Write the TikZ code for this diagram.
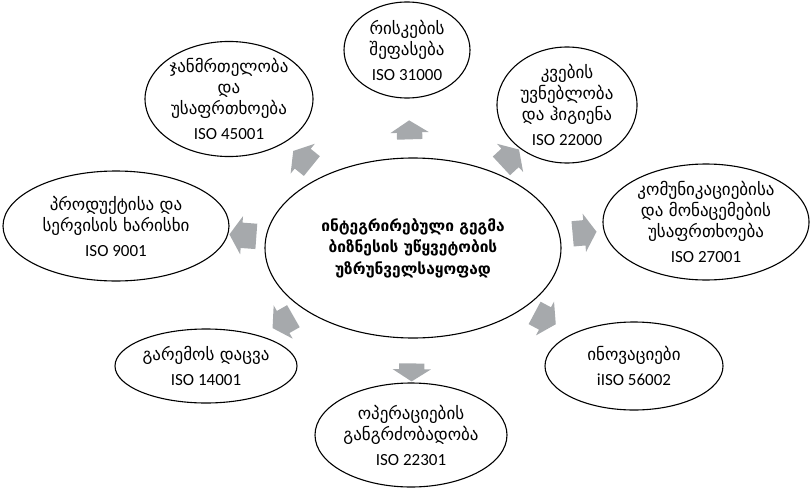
\documentclass[tikz,border=0pt]{standalone}
\usepackage{fontspec}
\setmainfont{Carlito}
\newfontfamily\geo{DejaVu Sans}
\usetikzlibrary{shapes.geometric,shapes.arrows}
\definecolor{arrowgray}{RGB}{166,169,172}

\begin{document}
\begin{tikzpicture}[x=1pt, y=1pt,
  goal/.style={ellipse, draw, line width=1.1pt, align=center, inner sep=0pt,
    font=\geo\fontsize{17}{21}\selectfont},
  push/.style={single arrow, fill=arrowgray, draw=none, inner xsep=0pt,
    inner ysep=12.5pt, single arrow head extend=6.5pt, single arrow tip angle=115,
    minimum height=#1, sloped, allow upside down},
  push/.default=24pt]

\useasboundingbox (0,0) rectangle (810,491);

% Center
\node[goal, minimum width=296pt, minimum height=180pt,
  font=\geo\bfseries\fontsize{15.5}{21.5}\selectfont] (plan) at (413,243)
  {ინტეგრირებული გეგმა\\ბიზნესის უწყვეტობის\\უზრუნველსაყოფად};

% Risk
\node[goal, minimum width=126pt, minimum height=96pt] (risk) at (407,441)
  {რისკების\\შეფასება\\[4pt]\rmfamily ISO 31000};

% Health
\node[goal, minimum width=154pt, minimum height=104pt] (health) at (229,392)
  {ჯანმრთელობა\\და\\უსაფრთხოება\\[4pt]\rmfamily ISO 45001};

% Food
\node[goal, minimum width=140pt, minimum height=116pt] (food) at (567,386)
  {კვების\\უვნებლობა\\და ჰიგიენა\\[4pt]\rmfamily ISO 22000};

% Communications
\node[goal, minimum width=206pt, minimum height=116pt] (comm) at (706,269)
  {კომუნიკაციებისა\\და მონაცემების\\უსაფრთხოება\\[4pt]\rmfamily ISO 27001};

% Product
\node[goal, minimum width=226pt, minimum height=110pt] (product) at (116,265)
  {პროდუქტისა და\\სერვისის ხარისხი\\[4pt]\rmfamily ISO 9001};

% Environment
\node[goal, minimum width=182pt, minimum height=74pt] (env) at (206,125)
  {გარემოს დაცვა\\[4pt]\rmfamily ISO 14001};

% Innovation
\node[goal, minimum width=178pt, minimum height=88pt] (innov) at (634,125)
  {ინოვაციები\\[4pt]\rmfamily iISO 56002};

% Operations
\node[goal, minimum width=192pt, minimum height=104pt] (oper) at (411,56)
  {ოპერაციების\\განგრძობადობა\\[4pt]\rmfamily ISO 22301};

% Arrows
\path (plan) -- (risk) node[push=19pt, pos=0.4] (a1) {};
\path (plan) -- (oper) node[push=18pt, pos=0.68] (a2) {};
\path (plan) -- (product) node[push=27pt, pos=0.5] (a3) {};
\path (plan) -- (comm) node[push=24pt, pos=0.47] (a4) {};
\path (plan) -- (health) node[push, pos=0.45] (a5) {};
\path (plan) -- (food) node[push, pos=0.5] (a6) {};
\path (plan) -- (env) node[push, pos=0.4] (a7) {};
\path (plan) -- (innov) node[push, pos=0.35] (a8) {};

\end{tikzpicture}
\end{document}
